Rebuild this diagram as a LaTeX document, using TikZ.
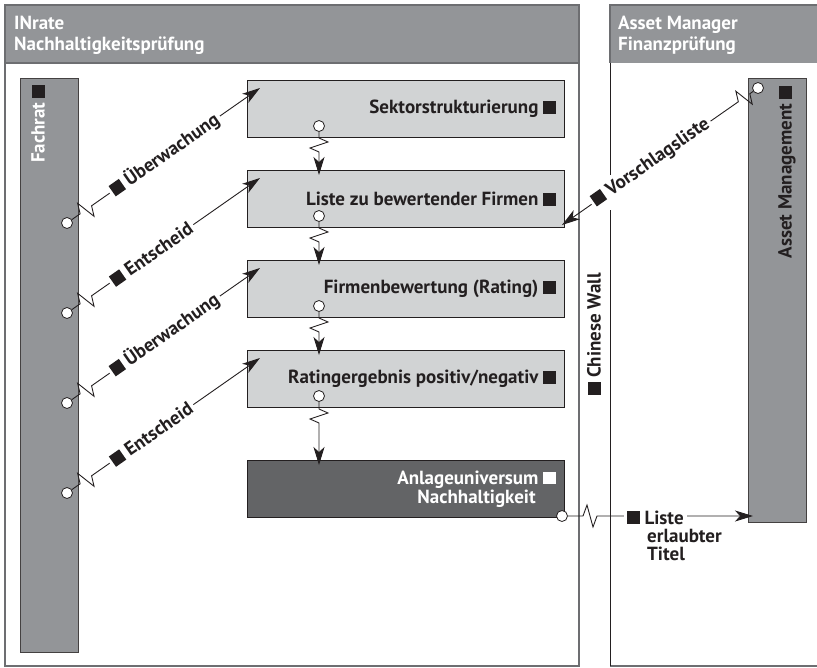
\documentclass[tikz,border=0pt]{standalone}
\usepackage{fontspec}
\setmainfont{PT Sans}
\usetikzlibrary{calc,arrows.meta}
\definecolor{hdr}{HTML}{939598}
\definecolor{light}{HTML}{D1D3D4}
\definecolor{dark}{HTML}{636466}
\definecolor{ink}{HTML}{231F20}
\definecolor{frame}{HTML}{6D6E71}
\newcommand\sq{\rule{0.66em}{0.66em}}
% zigzag connector: from, to, start distance, amplitude
\newcommand\zzconn[4]{\draw[conn,arr] (#1) -- ($(#1)!#3!(#2)$) -- ($(#1)!#3+4pt!(#2)!#4!90:(#2)$) -- ($(#1)!#3+10pt!(#2)!#4!-90:(#2)$) -- ($(#1)!#3+14pt!(#2)$) -- (#2);}
\begin{document}
\begin{tikzpicture}[x=1pt,y=-1pt,
  font=\bfseries\fontsize{19}{16.5}\selectfont,
  panel/.style={draw=frame, line width=1.2pt},
  procbox/.style={draw=ink, fill=light, line width=1pt, minimum width=317pt, minimum height=57pt, anchor=north west, inner sep=0pt},
  darkbox/.style={procbox, fill=dark},
  bar/.style={draw=ink!85, fill=hdr, line width=1pt, minimum width=58pt, anchor=north west, inner sep=0pt},
  circ/.style={circle, draw=ink, fill=white, minimum size=11pt, inner sep=0pt, line width=0.8pt},
  conn/.style={draw=ink, line width=0.9pt},
  arr/.style={-{Stealth[length=18pt,width=11pt,inset=5pt]}},
  lbl/.style={fill=white, inner sep=3pt, text=ink},
  boxtext/.style={anchor=east, inner sep=0pt, text=ink},
  hdrtext/.style={anchor=base west, inner sep=0pt, text=white}]
\useasboundingbox (0,0) rectangle (817,667);
\clip (0,0) rectangle (817,667);
% panels
\draw[panel] (5,5) rectangle (579,666);
\filldraw[panel, fill=hdr] (5,5) rectangle (579,63);
\fill[hdr] (610,5) rectangle (830,63);
\draw[frame, line width=1.2pt] (830,5) -- (610,5) -- (610,63);
\draw[frame, line width=1.2pt] (610,666) -- (830,666);
\draw[ink, line width=1pt] (610,63) -- (610,175);
\draw[ink, line width=1pt] (610,210) -- (610,666);
\node[hdrtext] (h1a) at (14,29) {INrate};
\node[hdrtext] (h1b) at (14,50) {Nachhaltigkeitsprüfung};
\node[hdrtext] (h2a) at (618,29) {Asset Manager};
\node[hdrtext] (h2b) at (618,50) {Finanzprüfung};
% bars
\node[bar, minimum height=574pt] (fr) at (20,78) {};
\node[bar, minimum height=444pt] (am) at (748,78) {};
\node[rotate=90, anchor=east, inner sep=0pt] (frt) at (38,85) {\textcolor{white}{Fachrat} \textcolor{ink}{\sq}};
\node[rotate=90, anchor=east, inner sep=0pt, text=ink] (amt) at (787,86) {Asset Management \sq};
\node[rotate=90, inner sep=0pt, text=ink] (cw) at (594,334) {\sq\ Chinese Wall};
% process boxes
\node[procbox] (b1) at (247,80) {};
\node[procbox] (b2) at (247,170) {};
\node[procbox] (b3) at (247,260) {};
\node[procbox] (b4) at (247,350) {};
\node[darkbox] (b5) at (247,460) {};
\node[boxtext] (b1t) at ([xshift=-9pt]b1.east) {Sektorstrukturierung \sq};
\node[boxtext] (b2t) at ([xshift=-9pt]b2.east) {Liste zu bewertender Firmen \sq};
\node[boxtext] (b3t) at ([xshift=-9pt]b3.east) {Firmenbewertung (Rating) \sq};
\node[boxtext] (b4t) at ([xshift=-9pt]b4.east) {Ratingergebnis positiv/negativ \sq};
\node[boxtext, text=white, align=center] (b5t) at ([xshift=-9pt]b5.east) {Anlageuniversum \sq\\Nachhaltigkeit};
% circles
\node[circ] (o1) at (319,126) {};
\node[circ] (o2) at (319,216) {};
\node[circ] (o3) at (319,306) {};
\node[circ] (o4) at (319,396) {};
\node[circ] (o5) at (562,516) {};
\node[circ] (f1) at (67,223) {};
\node[circ] (f2) at (67,313) {};
\node[circ] (f3) at (67,403) {};
\node[circ] (f4) at (67,493) {};
\node[circ] (v) at (758,88) {};
% tips
\coordinate (t2) at (319,175);
\coordinate (t3) at (319,265);
\coordinate (t4) at (319,355);
\coordinate (t5) at (319,465);
\coordinate (d1) at (260,88);
\coordinate (d2) at (260,178);
\coordinate (d3) at (260,268);
\coordinate (d4) at (260,358);
\coordinate (vt) at (562,225);
\coordinate (lt) at (753,516);
% vertical connectors
\zzconn{o1}{t2}{12pt}{9pt}
\zzconn{o2}{t3}{12pt}{9pt}
\zzconn{o3}{t4}{12pt}{9pt}
\zzconn{o4}{t5}{13pt}{9pt}
% diagonal connectors
\zzconn{f1}{d1}{16pt}{10pt}
\zzconn{f2}{d2}{16pt}{10pt}
\zzconn{f3}{d3}{16pt}{10pt}
\zzconn{f4}{d4}{16pt}{10pt}
\zzconn{v}{vt}{10pt}{10pt}
\zzconn{o5}{lt}{21pt}{11pt}
% labels
\node[lbl, rotate=35, anchor=west] (l1) at ($(f1)!52pt!(d1)$) {\sq\ Überwachung};
\node[lbl, rotate=35, anchor=west] (l2) at ($(f2)!52pt!(d2)$) {\sq\ Entscheid};
\node[lbl, rotate=35, anchor=west] (l3) at ($(f3)!52pt!(d3)$) {\sq\ Überwachung};
\node[lbl, rotate=35, anchor=west] (l4) at ($(f4)!52pt!(d4)$) {\sq\ Entscheid};
\node[lbl, rotate=35, anchor=west] (l5) at ($(vt)!36pt!(v)$) {\sq\ Vorschlagsliste};
\node[lbl, anchor=base west] (l6) at (624,524) {\sq\ Liste};
\node[anchor=base west, inner sep=0pt, text=ink] (l6b) at (647,542) {erlaubter};
\node[anchor=base west, inner sep=0pt, text=ink] (l6c) at (647,560) {Titel};
\end{tikzpicture}
\end{document}
